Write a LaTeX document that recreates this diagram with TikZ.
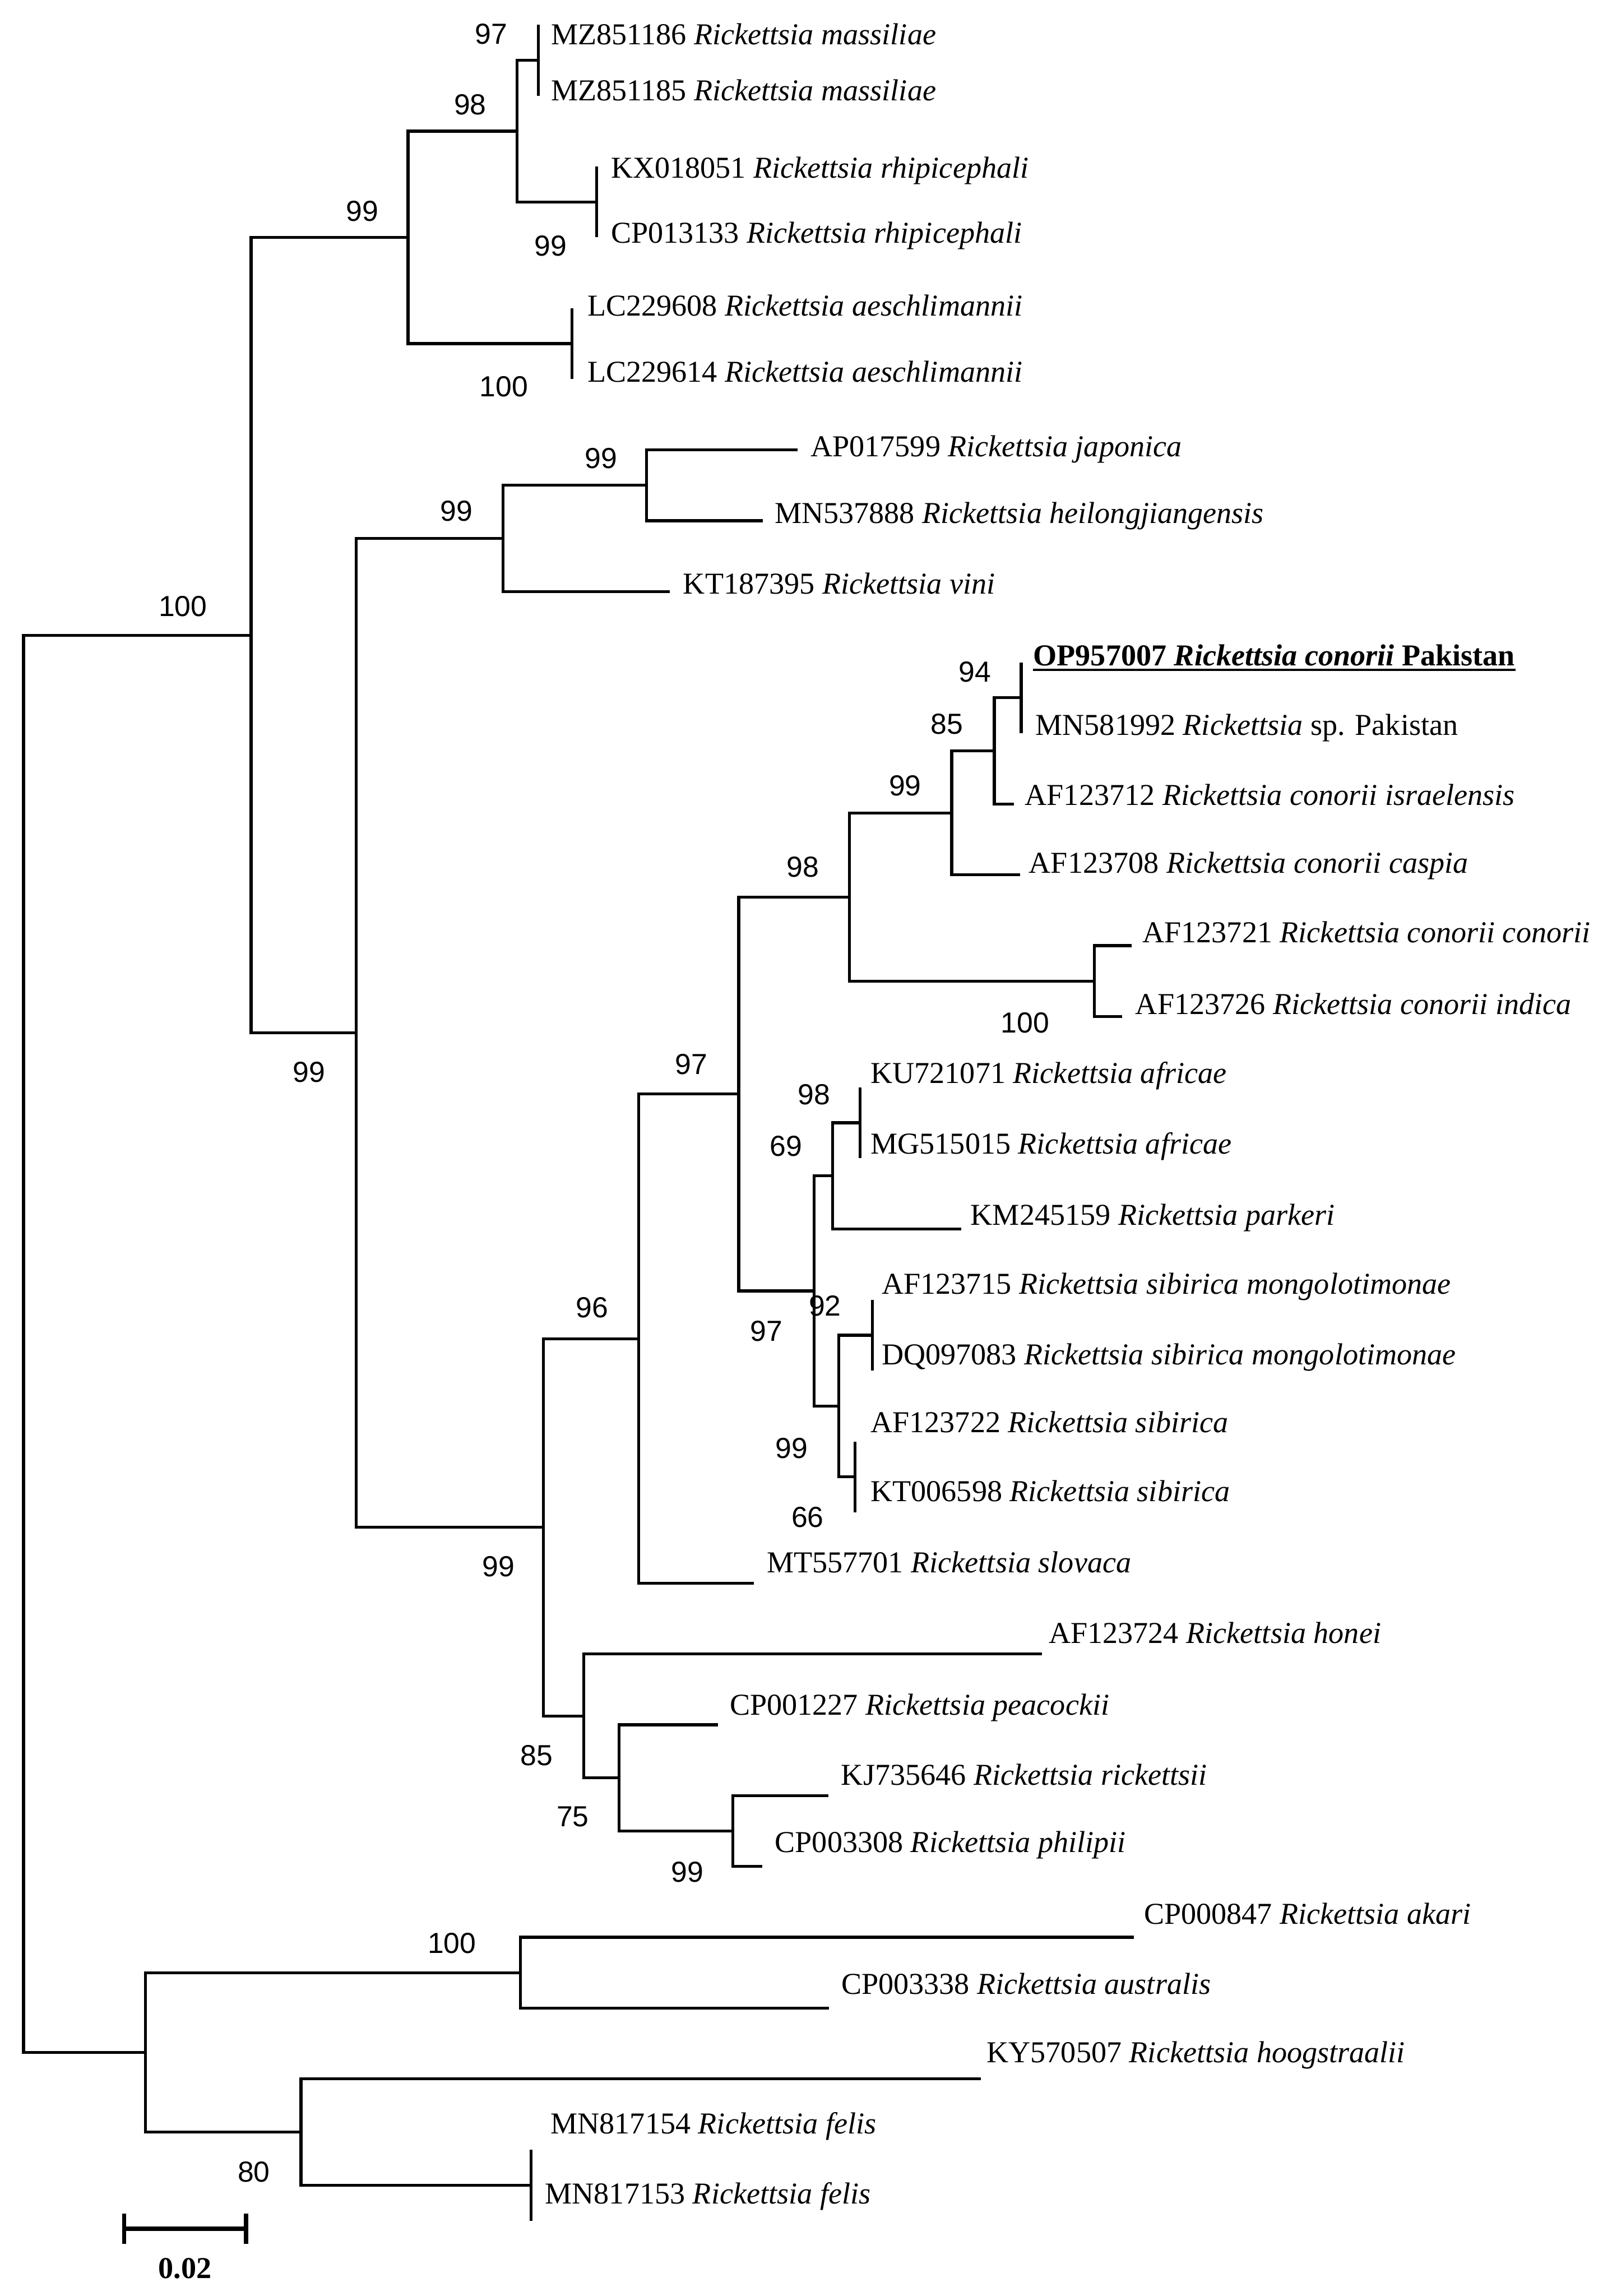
\documentclass[tikz,border=0pt]{standalone}
\usepackage{fontspec}
\setmainfont{Liberation Serif}
\newfontfamily\numfont{Liberation Sans}
\begin{document}
\begin{tikzpicture}[x=0.5pt,y=-0.5pt,
  br/.style={line width=1pt, line join=miter},
  lab/.style={anchor=base west, inner sep=0pt, font=\fontsize{10.37pt}{12pt}\selectfont},
  bs/.style={anchor=base, inner sep=0pt, font=\numfont\fontsize{9.9pt}{12pt}\selectfont},
  sbar/.style={line width=1.5pt}]
\fill[white] (0,0) rectangle (1095,1568.3);
\useasboundingbox (0,0) rectangle (1095,1568.3);
% ---- tips ----
\coordinate (t1) at (367.8,17.0);
\coordinate (t2) at (367.8,65.4);
\coordinate (t3) at (407.6,113.8);
\coordinate (t4) at (407.6,162.1);
\coordinate (t5) at (390.6,210.5);
\coordinate (t6) at (390.6,258.9);
\coordinate (t7) at (544.8,307.3);
\coordinate (t8) at (521.0,355.7);
\coordinate (t9) at (457.7,404.0);
\coordinate (t10) at (697.6,452.4);
\coordinate (t11) at (697.6,500.8);
\coordinate (t12) at (692.8,549.2);
\coordinate (t13) at (697.0,597.6);
\coordinate (t14) at (773.1,645.9);
\coordinate (t15) at (766.7,694.3);
\coordinate (t16) at (587.6,742.7);
\coordinate (t17) at (587.6,791.1);
\coordinate (t18) at (656.5,839.5);
\coordinate (t19) at (596.1,887.8);
\coordinate (t20) at (596.1,936.2);
\coordinate (t21) at (584.1,984.6);
\coordinate (t22) at (584.1,1033.0);
\coordinate (t23) at (515.0,1081.4);
\coordinate (t24) at (711.6,1129.7);
\coordinate (t25) at (490.3,1178.1);
\coordinate (t26) at (565.8,1226.5);
\coordinate (t27) at (520.7,1274.9);
\coordinate (t28) at (774.6,1323.2);
\coordinate (t29) at (566.4,1371.6);
\coordinate (t30) at (670.0,1420.0);
\coordinate (t31) at (362.9,1468.4);
\coordinate (t32) at (362.9,1516.8);
% ---- internal nodes ----
\coordinate (nD) at (367.8,41.2);
\coordinate (nE) at (407.6,138.0);
\coordinate (nC) at (353.2,89.6);
\coordinate (nF) at (390.6,234.7);
\coordinate (nB) at (278.7,162.2);
\coordinate (nI) at (441.6,331.5);
\coordinate (nH) at (343.6,367.8);
\coordinate (nP) at (697.6,476.6);
\coordinate (nO) at (679.2,512.9);
\coordinate (nN) at (650.1,555.3);
\coordinate (nQ) at (747.7,670.1);
\coordinate (nM) at (580.3,612.7);
\coordinate (nT) at (587.6,766.9);
\coordinate (nS) at (568.8,803.2);
\coordinate (nV) at (596.1,912.0);
\coordinate (nW) at (584.1,1008.8);
\coordinate (nU) at (572.9,960.4);
\coordinate (nR) at (556.2,881.8);
\coordinate (nL) at (504.6,747.3);
\coordinate (nK) at (436.3,914.4);
\coordinate (nZ) at (500.7,1250.7);
\coordinate (nY) at (423.0,1214.4);
\coordinate (nX) at (398.9,1172.1);
\coordinate (nJ) at (371.3,1043.3);
\coordinate (nG) at (243.3,705.6);
\coordinate (nA) at (171.5,433.9);
\coordinate (nAB) at (355.4,1347.4);
\coordinate (nAD) at (362.9,1492.6);
\coordinate (nAC) at (205.6,1456.3);
\coordinate (nAA) at (99.3,1401.9);
\coordinate (root) at (16.1,917.9);
% ---- branches ----
\draw[br] (t1) -| (nD) |- (t2);
\draw[br] (nD) -| (nC) |- (nE);
\draw[br] (t3) -| (nE) |- (t4);
\draw[br] (nC) -| (nB) |- (nF);
\draw[br] (t5) -| (nF) |- (t6);
\draw[br] (nB) -| (nA) |- (nG);
\draw[br] (t7) -| (nI) |- (t8);
\draw[br] (nI) -| (nH) |- (t9);
\draw[br] (nH) -| (nG) |- (nJ);
\draw[br] (t10) -| (nP) |- (t11);
\draw[br] (nP) -| (nO) |- (t12);
\draw[br] (nO) -| (nN) |- (t13);
\draw[br] (nN) -| (nM) |- (nQ);
\draw[br] (t14) -| (nQ) |- (t15);
\draw[br] (nM) -| (nL) |- (nR);
\draw[br] (t16) -| (nT) |- (t17);
\draw[br] (nT) -| (nS) |- (t18);
\draw[br] (nS) -| (nR) |- (nU);
\draw[br] (t19) -| (nV) |- (t20);
\draw[br] (nV) -| (nU) |- (nW);
\draw[br] (t21) -| (nW) |- (t22);
\draw[br] (nL) -| (nK) |- (t23);
\draw[br] (nK) -| (nJ) |- (nX);
\draw[br] (t24) -| (nX) |- (nY);
\draw[br] (t25) -| (nY) |- (nZ);
\draw[br] (t26) -| (nZ) |- (t27);
\draw[br] (nA) -| (root) |- (nAA);
\draw[br] (nAB) -| (nAA) |- (nAC);
\draw[br] (t28) -| (nAB) |- (t29);
\draw[br] (t30) -| (nAC) |- (nAD);
\draw[br] (t31) -| (nAD) |- (t32);
% ---- leaf labels ----
\node[lab] (l1) at (376,30.4) {MZ851186 \textit{Rickettsia massiliae}};
\node[lab] (l2) at (376,68.6) {MZ851185 \textit{Rickettsia massiliae}};
\node[lab] (l3) at (417,121.5) {KX018051 \textit{Rickettsia rhipicephali}};
\node[lab] (l4) at (417,165.9) {CP013133 \textit{Rickettsia rhipicephali}};
\node[lab] (l5) at (400.9,215.9) {LC229608 \textit{Rickettsia aeschlimannii}};
\node[lab] (l6) at (400.9,260.9) {LC229614 \textit{Rickettsia aeschlimannii}};
\node[lab] (l7) at (553.4,311.9) {AP017599 \textit{Rickettsia japonica}};
\node[lab] (l8) at (528.8,357.5) {MN537888 \textit{Rickettsia heilongjiangensis}};
\node[lab] (l9) at (466.3,405.6) {KT187395 \textit{Rickettsia vini}};
\node[lab] (l10) at (705.5,454.6) {\bfseries OP957007 \textit{Rickettsia conorii} Pakistan};
\draw[line width=0.75pt] ([yshift=-1.4pt]l10.base west) -- ([yshift=-1.4pt]l10.base east);
\node[lab] (l11) at (707,502.2) {MN581992 \textit{Rickettsia} sp. Pakistan};
\node[lab] (l12) at (699.8,549.9) {AF123712 \textit{Rickettsia conorii israelensis}};
\node[lab] (l13) at (702.5,596.4) {AF123708 \textit{Rickettsia conorii caspia}};
\node[lab] (l14) at (780.1,644.0) {AF123721 \textit{Rickettsia conorii conorii}};
\node[lab] (l15) at (775.3,692.8) {AF123726 \textit{Rickettsia conorii indica}};
\node[lab] (l16) at (594.4,740.0) {KU721071 \textit{Rickettsia africae}};
\node[lab] (l17) at (594.4,788.3) {MG515015 \textit{Rickettsia africae}};
\node[lab] (l18) at (662.7,836.6) {KM245159 \textit{Rickettsia parkeri}};
\node[lab] (l19) at (601.9,883.8) {AF123715 \textit{Rickettsia sibirica mongolotimonae}};
\node[lab] (l20) at (601.9,932.2) {DQ097083 \textit{Rickettsia sibirica mongolotimonae}};
\node[lab] (l21) at (594.4,978.3) {AF123722 \textit{Rickettsia sibirica}};
\node[lab] (l22) at (594.4,1025.5) {KT006598 \textit{Rickettsia sibirica}};
\node[lab] (l23) at (523.5,1074.0) {MT557701 \textit{Rickettsia slovaca}};
\node[lab] (l24) at (716.1,1122.4) {AF123724 \textit{Rickettsia honei}};
\node[lab] (l25) at (498.2,1171.5) {CP001227 \textit{Rickettsia peacockii}};
\node[lab] (l26) at (574.3,1219.1) {KJ735646 \textit{Rickettsia rickettsii}};
\node[lab] (l27) at (529.0,1265.1) {CP003308 \textit{Rickettsia philipii}};
\node[lab] (l28) at (781.1,1314.3) {CP000847 \textit{Rickettsia akari}};
\node[lab] (l29) at (574.4,1362.1) {CP003338 \textit{Rickettsia australis}};
\node[lab] (l30) at (673.7,1408.9) {KY570507 \textit{Rickettsia hoogstraalii}};
\node[lab] (l31) at (375.8,1457.6) {MN817154 \textit{Rickettsia felis}};
\node[lab] (l32) at (372.0,1505.4) {MN817153 \textit{Rickettsia felis}};
% ---- bootstrap values ----
\node[bs] (bD) at (335.5,29.9) {97};
\node[bs] (bC) at (321.2,78.2) {98};
\node[bs] (bE) at (376.0,174.8) {99};
\node[bs] (bB) at (247.5,150.9) {99};
\node[bs] (bF) at (344.2,270.7) {100};
\node[bs] (bA) at (124.9,420.8) {100};
\node[bs] (bI) at (410.6,320.0) {99};
\node[bs] (bH) at (311.8,355.9) {99};
\node[bs] (bG) at (211.0,739.3) {99};
\node[bs] (bP) at (665.9,465.7) {94};
\node[bs] (bO) at (646.9,501.4) {85};
\node[bs] (bN) at (618.3,543.5) {99};
\node[bs] (bM) at (548.3,599.1) {98};
\node[bs] (bQ) at (700.2,705.4) {100};
\node[bs] (bL) at (472.3,733.8) {97};
\node[bs] (bT) at (556.2,754.3) {98};
\node[bs] (bS) at (537.0,789.7) {69};
\node[bs] (bV) at (563.6,899.0) {92};
\node[bs] (bU) at (523.5,916.0) {97};
\node[bs] (bW) at (540.8,996.0) {99};
\node[bs] (bW2) at (551.7,1043.2) {66};
\node[bs] (bK) at (404.5,900.0) {96};
\node[bs] (bJ) at (340.5,1076.7) {99};
\node[bs] (bY) at (366.5,1206.0) {85};
\node[bs] (bZ) at (391.3,1247.8) {75};
\node[bs] (bZ2) at (469.7,1285.6) {99};
\node[bs] (bAB) at (308.7,1334.0) {100};
\node[bs] (bAD) at (173.4,1490.5) {80};
% ---- scale bar ----
\coordinate (sL) at (84.8,1522.4);
\coordinate (sR) at (168.0,1522.4);
\coordinate (sLt) at (84.8,1512.0);
\coordinate (sLb) at (84.8,1532.6);
\coordinate (sRt) at (168.0,1512.0);
\coordinate (sRb) at (168.0,1532.6);
\draw[sbar] (sL) -- (sR);
\draw[sbar] (sLt) -- (sLb);
\draw[sbar] (sRt) -- (sRb);
\node[anchor=base, inner sep=0pt, font=\bfseries\fontsize{10.37pt}{12pt}\selectfont] (scale) at (126.4,1556.1) {0.02};
\end{tikzpicture}
\end{document}
